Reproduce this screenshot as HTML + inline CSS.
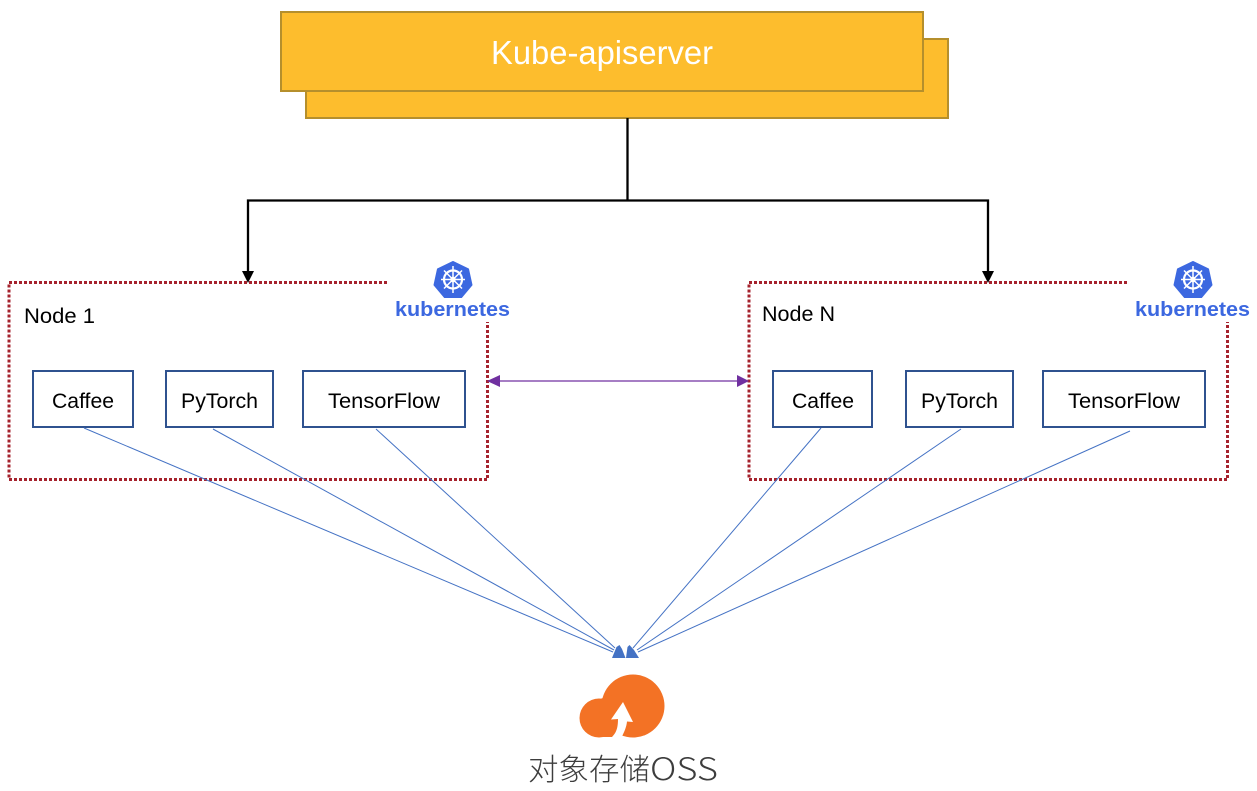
<!DOCTYPE html>
<html>
<head>
<meta charset="utf-8">
<style>
html,body{margin:0;padding:0;background:#fff;}
svg{display:block;}
text{font-family:"Liberation Sans","Noto Sans CJK SC",sans-serif;}
</style>
</head>
<body>
<svg width="1257" height="791" viewBox="0 0 1257 791" xmlns="http://www.w3.org/2000/svg">
<rect width="1257" height="791" fill="#fff"/>

<!-- api server -->
<rect x="306" y="39" width="642" height="79" fill="#fdbd2d" stroke="#b58f2c" stroke-width="2"/>
<rect x="281" y="12" width="642" height="79" fill="#fdbd2d" stroke="#b58f2c" stroke-width="2"/>
<text x="491" y="64" font-size="33" fill="#fff" textLength="222" lengthAdjust="spacingAndGlyphs">Kube-apiserver</text>

<!-- black connectors -->
<path d="M627.500 118V200.500M248 272V200.500H988V272" fill="none" stroke="#000" stroke-width="2.300"/>
<path d="M242 271H254L248 283Z" fill="#000"/>
<path d="M982 271H994L988 283Z" fill="#000"/>

<!-- node boxes -->
<path d="M387 282.500H9V479.500H487.500V322" fill="none" stroke="#a5222d" stroke-width="3" stroke-dasharray="3 2"/>
<path d="M1127 282.500H749V479.500H1227.500V322" fill="none" stroke="#a5222d" stroke-width="3" stroke-dasharray="3 2"/>
<text x="24" y="323" font-size="21" fill="#000" textLength="71" lengthAdjust="spacingAndGlyphs">Node 1</text>
<text x="762" y="321" font-size="21" fill="#000" textLength="73" lengthAdjust="spacingAndGlyphs">Node N</text>

<!-- inner boxes -->
<g fill="#fff" stroke="#2f528f" stroke-width="2">
<rect x="33" y="371" width="100" height="56"/>
<rect x="166" y="371" width="107" height="56"/>
<rect x="303" y="371" width="162" height="56"/>
<rect x="773" y="371" width="99" height="56"/>
<rect x="906" y="371" width="107" height="56"/>
<rect x="1043" y="371" width="162" height="56"/>
</g>
<g font-size="21" fill="#000">
<text x="52" y="408" textLength="62" lengthAdjust="spacingAndGlyphs">Caffee</text>
<text x="181" y="408" textLength="77" lengthAdjust="spacingAndGlyphs">PyTorch</text>
<text x="328" y="408" textLength="112" lengthAdjust="spacingAndGlyphs">TensorFlow</text>
<text x="792" y="408" textLength="62" lengthAdjust="spacingAndGlyphs">Caffee</text>
<text x="921" y="408" textLength="77" lengthAdjust="spacingAndGlyphs">PyTorch</text>
<text x="1068" y="408" textLength="112" lengthAdjust="spacingAndGlyphs">TensorFlow</text>
</g>

<!-- blue connectors -->
<g stroke="#4472c4" stroke-width="1" fill="none">
<path d="M84 428L613 652"/>
<path d="M213 429L614 650"/>
<path d="M376 429L615 648"/>
<path d="M821 428L633 648"/>
<path d="M961 429L637 650"/>
<path d="M1130 431L638 652"/>
</g>
<path d="M612 658L616.500 647L619.500 645L622 649L625.500 658Z" fill="#4472c4"/>
<path d="M626 658L627.500 647L629.500 645L634 650L639 658Z" fill="#4472c4"/>

<!-- purple arrow -->
<path d="M498 381H738" stroke="#7030a0" stroke-width="1.300" fill="none"/>
<path d="M487 381L500 375V387Z" fill="#7030a0"/>
<path d="M749 381L737 375V387Z" fill="#7030a0"/>

<!-- kubernetes logo 1 -->
<g>
<path d="M453 261.500L468.500 269L472 285L461.500 297.500H444.500L434 285L437.500 269Z" fill="#3c68e0" stroke="#3c68e0" stroke-linejoin="round"/>
<g fill="none" stroke="#fff">
<circle cx="453" cy="279.500" r="9" stroke-width="2.200"/>
<circle cx="453" cy="279.500" r="2" stroke-width="1.500"/>
<path d="M453 266V293M441 279.500H465M444 270.500L462 288.500M462 270.500L444 288.500" stroke-width="1.500"/>
</g>
<text x="395" y="316" font-size="20" font-weight="bold" fill="#3c68e0" textLength="115" lengthAdjust="spacingAndGlyphs">kubernetes</text>
</g>
<!-- kubernetes logo 2 -->
<g transform="translate(740,0)">
<path d="M453 261.500L468.500 269L472 285L461.500 297.500H444.500L434 285L437.500 269Z" fill="#3c68e0" stroke="#3c68e0" stroke-linejoin="round"/>
<g fill="none" stroke="#fff">
<circle cx="453" cy="279.500" r="9" stroke-width="2.200"/>
<circle cx="453" cy="279.500" r="2" stroke-width="1.500"/>
<path d="M453 266V293M441 279.500H465M444 270.500L462 288.500M462 270.500L444 288.500" stroke-width="1.500"/>
</g>
<text x="395" y="316" font-size="20" font-weight="bold" fill="#3c68e0" textLength="115" lengthAdjust="spacingAndGlyphs">kubernetes</text>
</g>

<!-- cloud -->
<circle cx="633" cy="706" r="31.500" fill="#f37225"/>
<circle cx="599" cy="718" r="19.500" fill="#f37225"/>
<path d="M600 699L612 695L622 720L618 730L612 737H598Z" fill="#f37225"/>
<path d="M623 702L611 719.500L618 719C618 726 617 731 613.500 735.500L620.500 739C624 733 626.500 727 627 721.500L633 722Z" fill="#fff"/>

<text x="528" y="780" font-size="30" fill="#3d3d3d" font-weight="300" style="font-family:'Noto Sans CJK SC',sans-serif" textLength="122" lengthAdjust="spacingAndGlyphs">对象存储</text>
<text x="650" y="780" font-size="31" fill="#3d3d3d" font-weight="300" style="font-family:'Noto Sans CJK SC',sans-serif" textLength="68" lengthAdjust="spacingAndGlyphs">OSS</text>
</svg>
</body>
</html>
